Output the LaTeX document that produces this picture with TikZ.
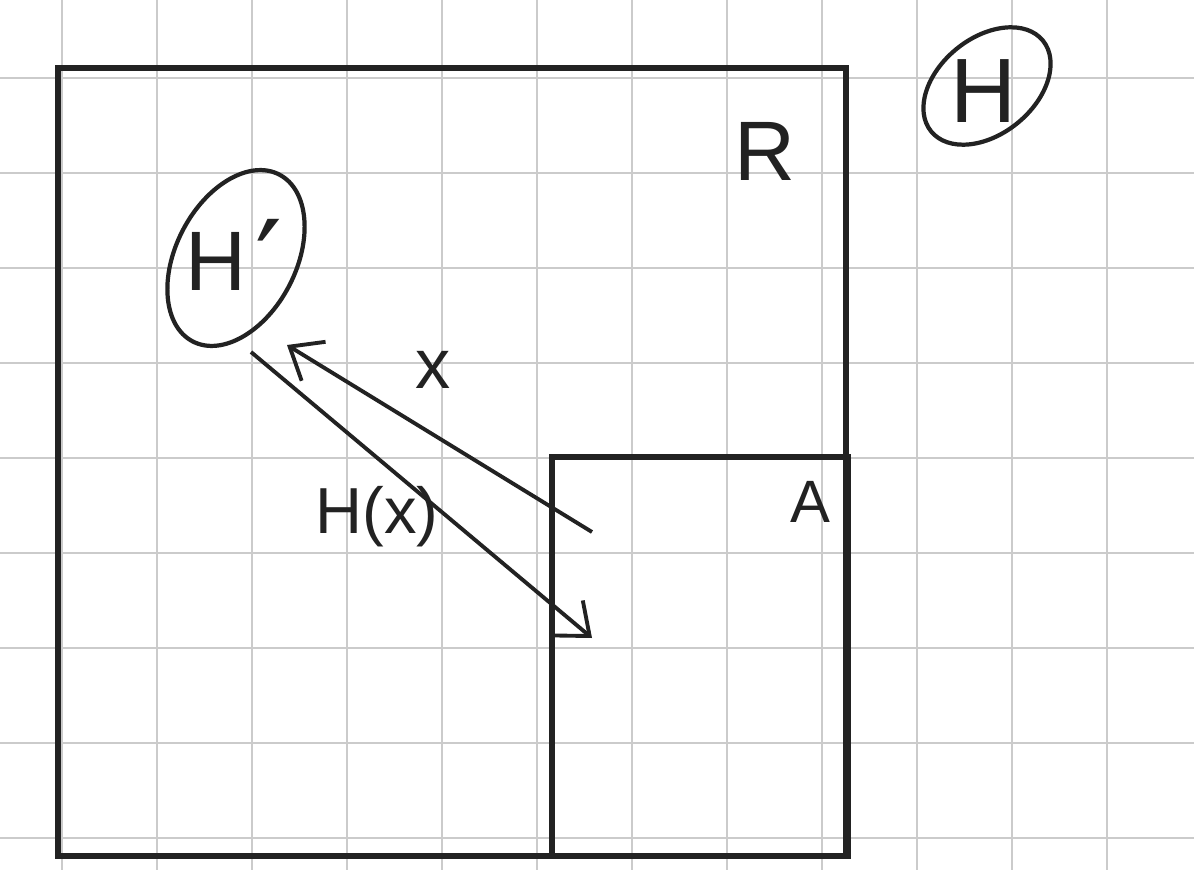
\documentclass[tikz,border=0pt]{standalone}
\usepackage{fontspec}
\setmainfont{Liberation Sans}
\newfontfamily\primefont{DejaVu Sans}
\usetikzlibrary{arrows.meta}
\definecolor{ink}{HTML}{222222}
\definecolor{gridgray}{HTML}{CBCBCB}
\tikzset{
  gridln/.style={draw=gridgray, line width=0.6pt},
  frame/.style={draw=ink, line width=1.5pt},
  oval/.style={draw=ink, line width=1.2pt},
  lbl/.style={text=ink, inner sep=0pt, anchor=base},
  arr/.style={draw=ink, line width=1.1pt, -{Straight Barb[length=8pt, width=13pt, line width=1.1pt]}},
}

\begin{document}
\begin{tikzpicture}[x=0.01cm, y=-0.01cm]

\useasboundingbox[fill=white] (0,0) rectangle (1194,870);
\foreach \gx in {62,157,...,1107} \draw[gridln] (\gx,0) -- (\gx,870);
\foreach \gy in {78,173,...,838} \draw[gridln] (0,\gy) -- (1194,\gy);

\draw[frame] (58,68) rectangle (846,856);
\draw[frame] (552,457) rectangle (848,856);

\draw[oval, rotate around={62.6:(236,258)}] (236,258) ellipse (94 and 60);
\draw[oval, rotate around={39:(987,86)}] (987,86) ellipse (72 and 48);

\node[lbl, font=\fontsize{24}{24}\selectfont] (hp) at (234,290) {H\hspace{0.1em}\raisebox{-0.2em}{\primefont\fontsize{34}{34}\selectfont ′}};
\node[lbl, font=\fontsize{26}{26}\selectfont] (h) at (983,123) {H};
\node[lbl, font=\fontsize{24}{24}\selectfont] (r) at (765,180) {R};
\node[lbl, font=\fontsize{17}{17}\selectfont] (a) at (810,522) {A};
\node[lbl, font=\fontsize{20}{20}\selectfont] (x) at (433,388) {x};
\node[lbl, font=\fontsize{18.5}{18.5}\selectfont] (hx) at (377,533) {H(x)};

\coordinate (xs) at (592,532);
\coordinate (xe) at (287,345);
\coordinate (hs) at (251,352);
\coordinate (he) at (592,638);

\draw[arr] (xs) -- (xe);
\draw[arr] (hs) -- (he);

\end{tikzpicture}
\end{document}
